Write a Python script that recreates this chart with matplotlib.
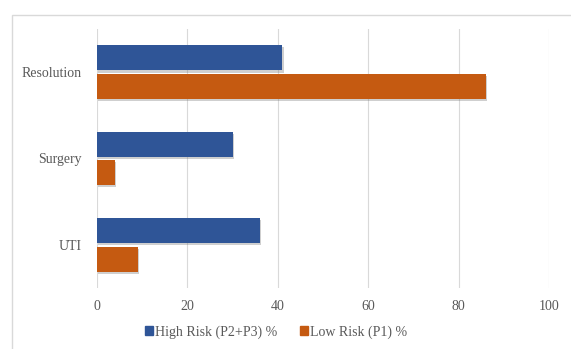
import numpy as np
import matplotlib.pyplot as plt
from matplotlib.patches import Rectangle, Patch
import matplotlib.patheffects as pe

categories = ["UTI", "Surgery", "Resolution"]
high_risk = [36, 30, 41]
low_risk = [9, 4, 86]
series_names = ["High Risk (P2+P3) %", "Low Risk (P1) %"]
xticks = [0, 20, 40, 60, 80, 100]

blue = "#2F5597"
orange = "#C55A11"
grey = "#595959"

plt.rcParams['font.family'] = ['Liberation Serif', 'DejaVu Serif']

fig = plt.figure(figsize=(5.71, 3.49), dpi=100)
# chart frame
fig.patches.append(Rectangle((12/571, -0.1), 1.2, 1.1 - 15/349,
                             transform=fig.transFigure, fill=False,
                             edgecolor="#D9D9D9", lw=1.0))
ax = fig.add_axes([97/571, 1 - 288/349, 452/571, 259/349])

y = np.arange(len(categories))
h = 0.29
shadow = [pe.SimplePatchShadow(offset=(1, -1.5), alpha=0.35, shadow_rgbFace="#777777"), pe.Normal()]
ax.barh(y + h/2 + 0.02, high_risk, height=h, color=blue, path_effects=shadow, zorder=3)
ax.barh(y - h/2 - 0.02, low_risk, height=h, color=orange, path_effects=shadow, zorder=3)

ax.set_xlim(0, 100)
ax.set_ylim(-0.5, len(categories) - 0.5)
ax.set_xticks(xticks)
ax.set_yticks(y)
ax.set_yticklabels(categories)
ax.tick_params(length=0, labelsize=10, colors=grey)
ax.tick_params(axis='y', pad=11)
ax.tick_params(axis='x', pad=9)
ax.grid(axis='x', color="#D9D9D9", lw=0.8, zorder=0)
for s in ax.spines.values():
    s.set_visible(False)

handles = [Patch(color=blue), Patch(color=orange)]
fig.legend(handles, series_names, loc='center', bbox_to_anchor=(276/571, 1 - 332/349),
           ncol=2, frameon=False, fontsize=10, labelcolor=grey,
           handlelength=0.6, handleheight=0.6, handletextpad=0.15, columnspacing=1.6)

fig.savefig("out.png", dpi=100)
